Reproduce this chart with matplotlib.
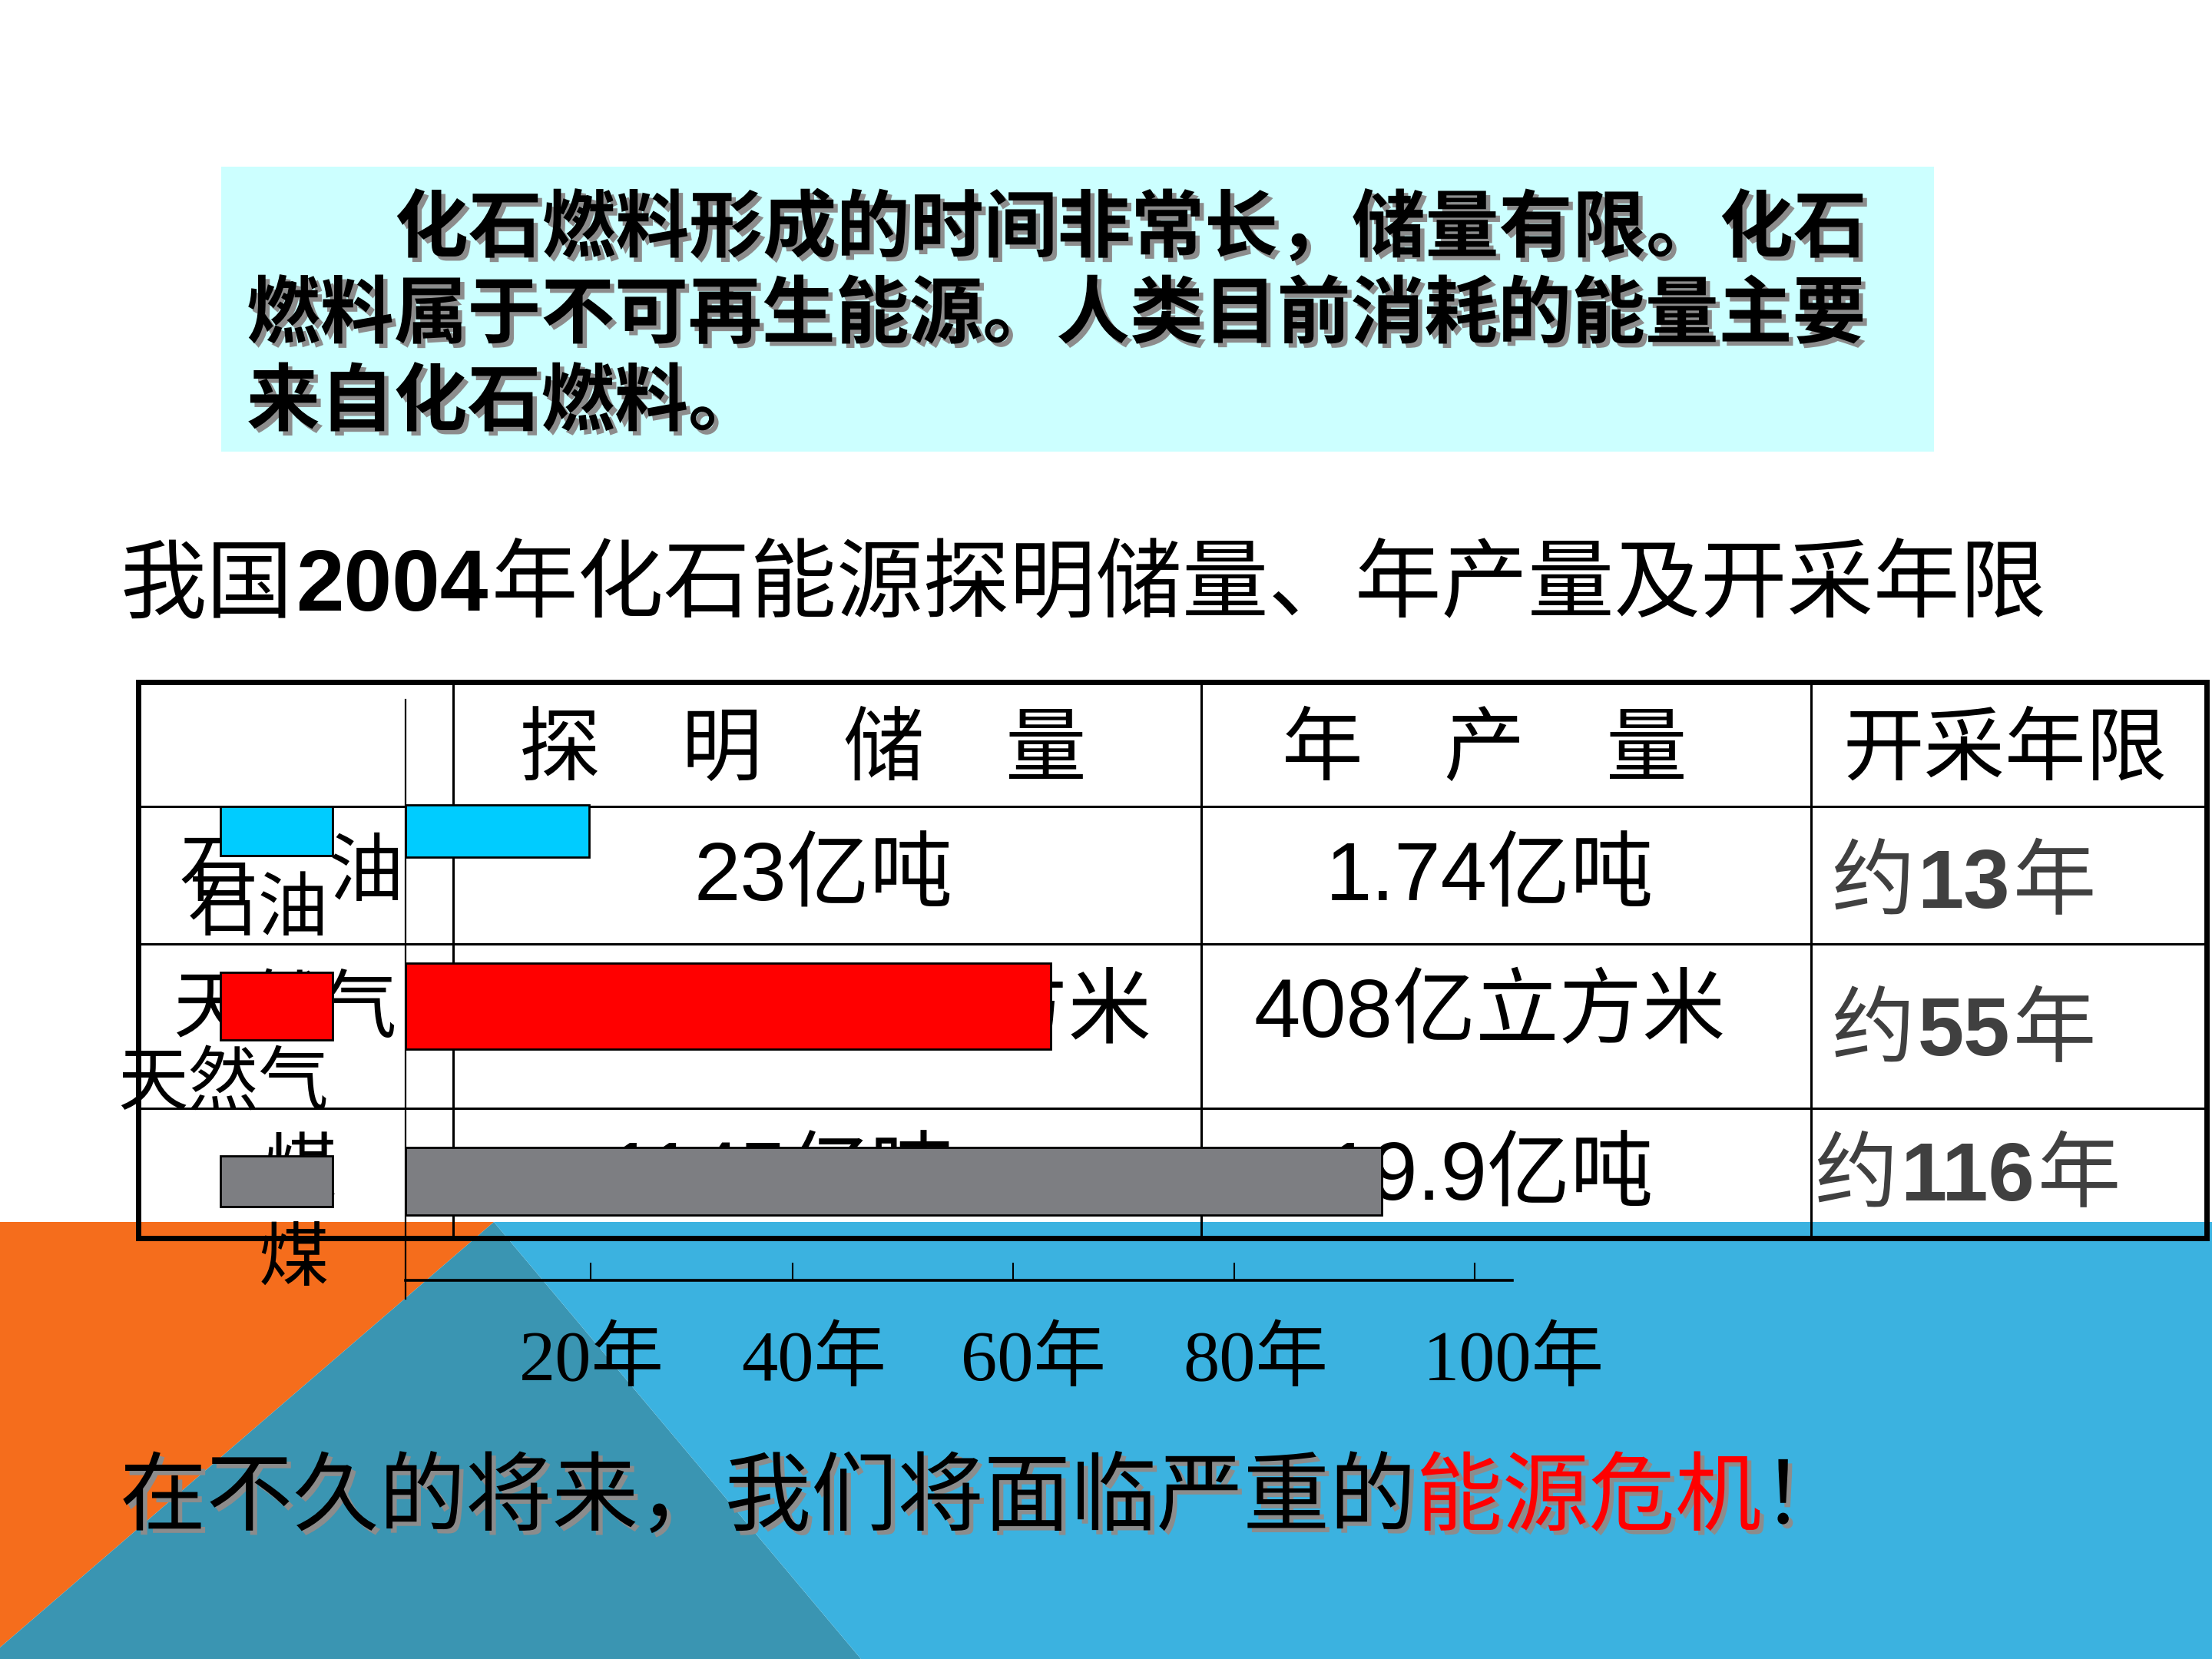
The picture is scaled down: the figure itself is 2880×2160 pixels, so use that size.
import numpy as np
import matplotlib
matplotlib.use('Agg')
import matplotlib.pyplot as plt
import matplotlib.patheffects as pe
from matplotlib.patches import Polygon, Rectangle
from matplotlib.transforms import ScaledTranslation

CJK = 'Noto Sans CJK SC'
SANS = ['Liberation Sans', CJK]
SERIF = ['Liberation Serif', CJK]

# ---- slide text / data ----
intro = ['化石燃料形成的时间非常长，储量有限。化石',
         '燃料属于不可再生能源。人类目前消耗的能量主要',
         '来自化石燃料。']
title_parts = ['我国', '2004', '年化石能源探明储量、年产量及开采年限']
headers = ['探　明　储　量', '年　产　量', '开采年限']
row_names = ['石　油', '天然气', '煤']
reserves = ['23亿吨', '2.23万亿立方米', '1145亿吨']
output = ['1.74亿吨', '408亿立方米', '19.9亿吨']
years_left = ['13', '55', '116']

# bar chart as drawn on the slide (axis units, ticks where the slide put them)
fuels = ['石油', '天然气', '煤']
bar_len = [17.2, 60.3, 91.3]
tick_pos = [17.3, 36.2, 56.8, 77.5, 100]
tick_labels = ['20年', '40年', '60年', '80年', '100年']
bar_colors = ['#00CCFF', '#FF0000', '#7D7E82']

closing = ['在不久的将来，我们将面临严重的', '能源危机', '！']

fig = plt.figure(figsize=(28.8, 21.6), dpi=100)
fig.patch.set_facecolor('white')

# background axes in slide pixel coordinates
bg = fig.add_axes([0, 0, 1, 1], zorder=0)
bg.set_xlim(0, 2880)
bg.set_ylim(2160, 0)
bg.axis('off')


def rich(ax, x, y, parts, ha='left', **common):
    # draw text pieces one after another on a shared baseline
    r = fig.canvas.get_renderer()
    inv = ax.transData.inverted()
    texts, cx = [], x
    for s, kw in parts:
        props = {**common, **kw}
        t = ax.text(cx, y, s, va='baseline', ha='left', **props)
        bb = t.get_window_extent(r).transformed(inv)
        cx = bb.x1 + 4
        texts.append(t)
    shift = {'left': 0, 'center': (cx - x) / 2, 'right': cx - x}[ha]
    for t in texts:
        t.set_x(t.get_position()[0] - shift)
    return texts


# design shapes at the bottom
bg.add_patch(Polygon([(0, 1591), (643, 1591), (0, 2145)], closed=True, fc='#F56D1C', lw=0))
bg.add_patch(Polygon([(643, 1591), (1121, 2160), (0, 2160), (0, 2145)], closed=True, fc='#3A95B2', lw=0))
bg.add_patch(Polygon([(643, 1591), (2880, 1591), (2880, 2160), (1121, 2160)], closed=True, fc='#3BB2E0', lw=0))

# intro box
bg.add_patch(Rectangle((288, 217), 2230, 371, fc='#CCFFFF', lw=0))
shadow = [pe.withSimplePatchShadow(offset=(4, -4), shadow_rgbFace='#8C8C8C', alpha=1)]
for (x, yb), line in zip([(514, 327), (321, 439), (321, 553)], intro):
    bg.text(x, yb, line, fontsize=69, family=CJK, weight='bold', va='baseline',
            path_effects=shadow)

# title
rich(bg, 156, 795,
     [(title_parts[0], {'family': CJK}),
      (title_parts[1], {'family': 'Liberation Sans', 'weight': 'bold'}),
      (title_parts[2], {'family': CJK})],
     fontsize=81)

# table grid
bg.add_patch(Rectangle((180, 888), 2693, 724, fill=False, ec='black', lw=5))
for x in [590, 1564, 2358]:
    bg.plot([x, x], [888, 1612], color='black', lw=2.2)
for y in [1050, 1229, 1443]:
    bg.plot([180, 2873], [y, y], color='black', lw=2.2)

for x, h in zip([1045, 1933, 2611], headers):
    bg.text(x, 1008, h, fontsize=76, family=CJK, ha='center', va='baseline')

base = [1173, 1350, 1563]
for i in range(3):
    bg.text([380, 372, 390][i], [1165, 1343, 1555][i], row_names[i], fontsize=70,
            family=CJK, ha='center', va='baseline')
    bg.text([1241, 1499, 1241][i], base[i], reserves[i], fontsize=78,
            family=SANS, ha='right', va='baseline')
    bg.text(1940, base[i], output[i], fontsize=78, family=SANS, ha='center', va='baseline')
    rich(bg, [2384, 2384, 2362][i], [1182, 1374, 1563][i],
         [('约', {'family': CJK}),
          (years_left[i], {'family': 'Liberation Sans', 'weight': 'bold'}),
          ('年', {'family': CJK})],
         fontsize=78, color='#404040')

# closing sentence: all full-width glyphs, so pieces sit on the em grid
em = 81 * 100 / 72
x0 = 156
for s, c, n0 in zip(closing, ['black', '#FF0000', 'black'], [0, 15, 19]):
    bg.text(x0 + n0 * em, 1984, s, fontsize=81, family=CJK, color=c,
            va='baseline', path_effects=shadow)

# ---- the bar chart drawn over the table ----
ax = fig.add_axes([528 / 2880, 1 - 1667 / 2160, 1441 / 2880, 756 / 2160], zorder=1)
ax.patch.set_alpha(0)
y = np.arange(len(fuels))
ax.barh(y, bar_len, height=[0.294, 0.49, 0.386], color=bar_colors,
        edgecolor='black', linewidth=2)
keys = ax.barh(y, [10.5] * 3, left=-17.3, height=[0.285, 0.39, 0.29],
               color=bar_colors, edgecolor='black', linewidth=2)
for p in keys:
    p.set_clip_on(False)
for yi, name in zip(y, fuels):
    ax.text(-7.2, yi + 0.45, name, ha='right', va='center', fontsize=66,
            family=CJK, clip_on=False)

ax.set_xlim(0, 103.5)
ax.set_ylim(2.566, -0.75)
ax.spines['top'].set_visible(False)
ax.spines['right'].set_visible(False)
ax.spines['left'].set_linewidth(1.6)
ax.spines['left'].set_bounds(-0.75, 2.67)
ax.spines['bottom'].set_linewidth(2.6)
ax.set_yticks([])
ax.set_xticks(tick_pos, tick_labels)
ax.tick_params(axis='x', direction='in', length=16.5, width=1.5, pad=45, labelsize=68)
label_shift = [0.02, 0.28, 0.27, 0.28, 0.51]  # inches, labels sit right of their ticks
for lab, dx in zip(ax.get_xticklabels(), label_shift):
    lab.set_fontfamily(SERIF)
    lab.set_transform(lab.get_transform() + ScaledTranslation(dx, 0, fig.dpi_scale_trans))

fig.savefig('out.png', dpi=100)
